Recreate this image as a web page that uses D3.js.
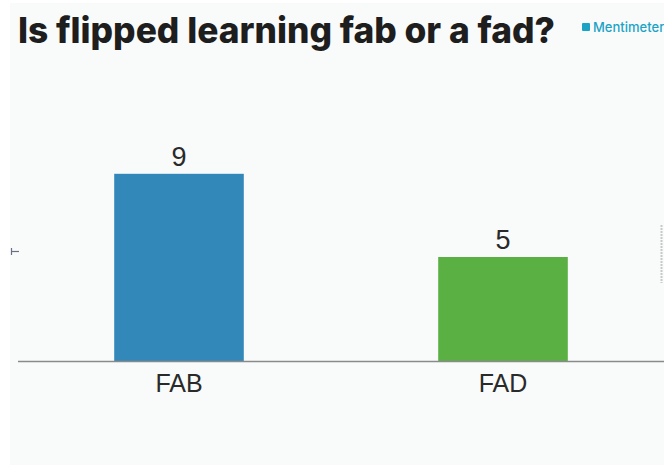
<!DOCTYPE html>
<html><head><meta charset="utf-8">
<script src="https://cdn.jsdelivr.net/npm/d3@7"></script>
<style>html,body{margin:0;padding:0;background:#fff;}svg{display:block;}</style>
</head><body>
<svg id="c" width="664" height="474"></svg>
<script>
const categories = ["FAB", "FAD"];
const values = [9, 5];
const colors = ["#3388ba", "#5ab043"];
const title = "Is flipped learning fab or a fad?";

const svg = d3.select("#c");
svg.append("rect").attr("x", 10).attr("y", 3).attr("width", 654).attr("height", 462).attr("fill", "#f9fbfb");

const baseY = 361;
const x = d3.scaleBand().domain(categories).range([17, 665]).paddingInner(0.6).paddingOuter(0.3);
const y = d3.scaleLinear().domain([0, 10]).range([baseY, baseY - 208]);

// title
svg.append("text").attr("x", 18).attr("y", 43)
  .attr("font-family", "Inter, 'Liberation Sans', sans-serif").attr("font-weight", 800)
  .attr("font-size", 36).attr("fill", "#1e1e1e")
  .attr("textLength", 537).attr("lengthAdjust", "spacingAndGlyphs")
  .text(title);

// Mentimeter logo
svg.append("rect").attr("x", 582).attr("y", 23).attr("width", 8).attr("height", 8).attr("rx", 1).attr("fill", "#1ba3c6");
svg.append("text").attr("x", 593).attr("y", 32)
  .attr("font-family", "Inter, 'Liberation Sans', sans-serif").attr("font-weight", 500)
  .attr("font-size", 13).attr("fill", "#1ba3c6").text("Mentimeter");

// bars
const g = svg.append("g");
g.selectAll("rect.bar").data(categories).join("rect").attr("class", "bar")
  .attr("x", d => x(d)).attr("width", x.bandwidth())
  .attr("y", (d, i) => y(values[i])).attr("height", (d, i) => baseY - y(values[i]))
  .attr("fill", (d, i) => colors[i]);

g.selectAll("text.val").data(categories).join("text").attr("class", "val")
  .attr("x", d => x(d) + x.bandwidth() / 2).attr("y", (d, i) => y(values[i]) - 8)
  .attr("text-anchor", "middle").attr("font-family", "'Liberation Sans', Arial, sans-serif")
  .attr("font-size", 27).attr("fill", "#2a2a2a").text((d, i) => values[i]);

// axis
const axis = d3.axisBottom(x).tickSize(0).tickPadding(7);
const ag = svg.append("g").attr("transform", `translate(0,${baseY})`).call(axis);
ag.select(".domain").remove();
svg.append("line").attr("x1", 18).attr("x2", 664).attr("y1", baseY + 0.5).attr("y2", baseY + 0.5)
  .attr("stroke", "#8a8a8a").attr("stroke-width", 1.5);
ag.selectAll("text").attr("font-family", "'Liberation Sans', Arial, sans-serif")
  .attr("font-size", 25).attr("fill", "#2a2a2a").attr("dy", "0.95em");

// small left mark
svg.append("line").attr("x1", 11.5).attr("x2", 11.5).attr("y1", 248).attr("y2", 255).attr("stroke", "#6a7080").attr("stroke-width", 1.2);
svg.append("line").attr("x1", 11.5).attr("x2", 19).attr("y1", 251.5).attr("y2", 251.5).attr("stroke", "#6a7080").attr("stroke-width", 1.2);

// right dotted mark
svg.append("line").attr("x1", 661.5).attr("x2", 661.5).attr("y1", 225).attr("y2", 283)
  .attr("stroke", "#c8c8c8").attr("stroke-width", 2).attr("stroke-dasharray", "2,1");
</script>
</body></html>
